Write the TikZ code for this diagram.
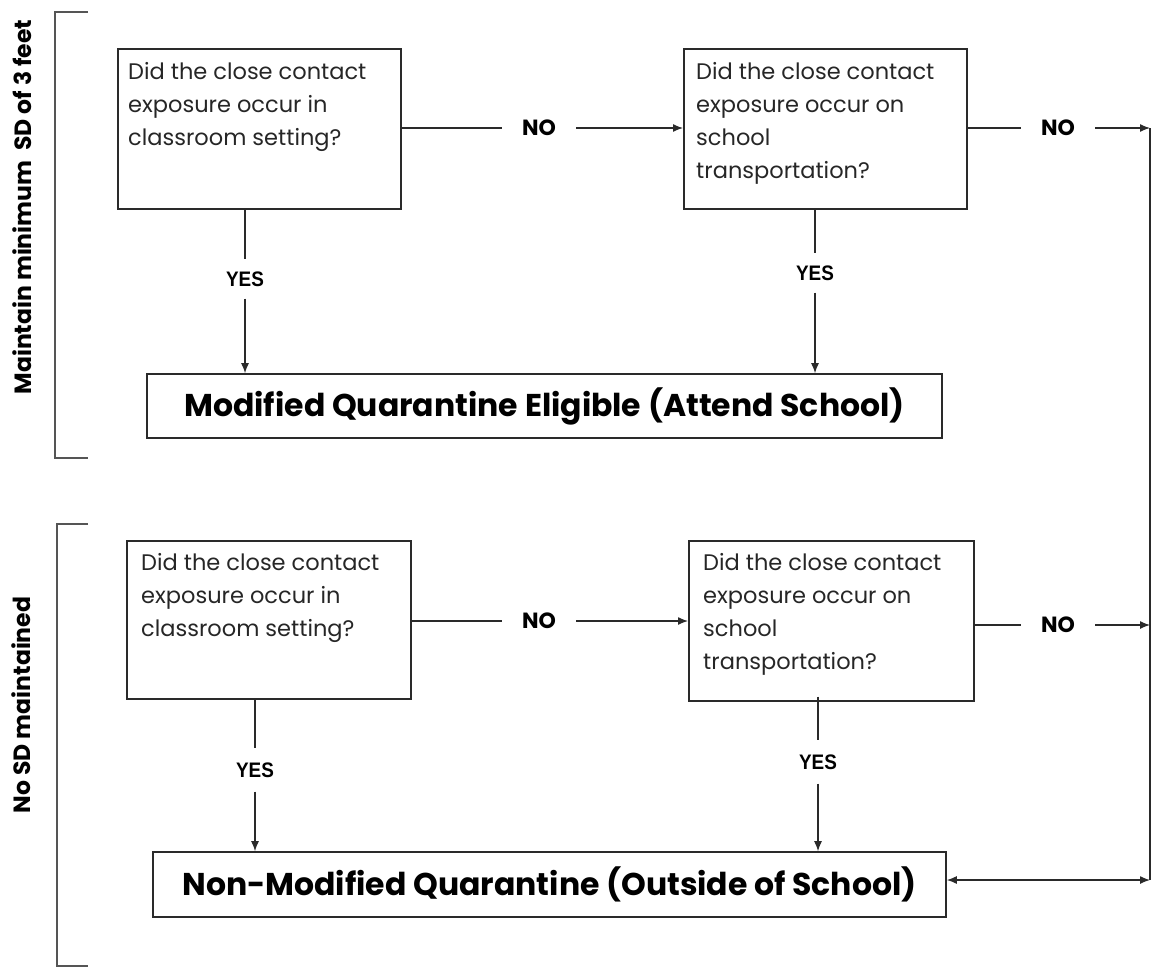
\documentclass[tikz,border=0pt]{standalone}
\usepackage{fontspec}
\setmainfont{Poppins}
\newfontfamily\narrowfont{Liberation Sans}
\usetikzlibrary{arrows.meta}
\definecolor{linec}{HTML}{2A2A2A}
\begin{document}
\begin{tikzpicture}[x=1pt,y=-1pt,
  qbox/.style={draw=linec, line width=1.6pt, anchor=north west, inner sep=0pt},
  qtext/.style={anchor=north west, inner sep=0pt, align=left, text=black!85,
                font=\fontsize{22.5}{33}\selectfont},
  tbox/.style={draw=linec, line width=1.6pt, inner sep=0pt,
               font=\bfseries\fontsize{31.5}{34}\selectfont},
  nolab/.style={inner xsep=20pt, inner ysep=2pt, font=\bfseries\fontsize{22}{24}\selectfont},
  yeslab/.style={inner xsep=2pt, inner ysep=12pt, font=\narrowfont\bfseries\fontsize{21}{22}\selectfont},
  sidelab/.style={rotate=90, inner sep=0pt, font=\bfseries\fontsize{23.5}{26}\selectfont},
  conn/.style={draw=linec, line width=1.3pt},
  arr/.style={conn, -{Latex[length=10pt,width=8pt]}},
  dbl/.style={conn, {Latex[length=10pt,width=8pt]}-{Latex[length=10pt,width=8pt]}},
  bracket/.style={draw=linec!80, line width=1.5pt}
]
\useasboundingbox (0,0) rectangle (1155,971);

% side labels and brackets
\node[sidelab] (lab1) at (22,207) {Maintain minimum\ \ SD of 3 feet};
\node[sidelab] (lab2) at (21,705) {No SD maintained};
\draw[bracket] (88,12) -- (55,12) -- (55,458) -- (88,458);
\draw[bracket] (88,524) -- (57,524) -- (57,966) -- (88,966);

% top section
\node[qbox, minimum width=283pt, minimum height=160pt] (A1) at (117,48) {};
\node[qtext] (A1t) at (128,62) {Did the close contact\\exposure occur in\\classroom setting?};
\node[qbox, minimum width=283pt, minimum height=160pt] (B1) at (683,48) {};
\node[qtext] (B1t) at (696,62) {Did the close contact\\exposure occur on\\school\\transportation?};
\node[tbox, minimum width=795pt, minimum height=64pt] (M1) at (544.5,406) {Modified Quarantine Eligible (Attend School)};

\node[nolab] (no1) at (539,128) {NO};
\node[nolab] (no2) at (1058,128) {NO};
\node[yeslab] (yes1) at (245,279) {\scalebox{0.9}[1]{YES}};
\node[yeslab] (yes2) at (815,273) {\scalebox{0.9}[1]{YES}};

% bottom section
\node[qbox, minimum width=284pt, minimum height=158pt] (A2) at (126,540) {};
\node[qtext] (A2t) at (141,553) {Did the close contact\\exposure occur in\\classroom setting?};
\node[qbox, minimum width=285pt, minimum height=160pt] (B2) at (688,540) {};
\node[qtext] (B2t) at (703,553) {Did the close contact\\exposure occur on\\school\\transportation?};
\node[tbox, minimum width=793pt, minimum height=65pt] (N) at (549.5,884.5) {Non-Modified Quarantine (Outside of School)};

\node[nolab] (no3) at (539,621) {NO};
\node[nolab] (no4) at (1058,625) {NO};
\node[yeslab, inner ysep=14pt] (yes3) at (255,770) {\scalebox{0.9}[1]{YES}};
\node[yeslab, inner ysep=14pt] (yes4) at (818,762) {\scalebox{0.9}[1]{YES}};

% right trunk
\coordinate (rc1) at (1150,128);
\coordinate (rc2) at (1150,625);
\coordinate (rc3) at (1150,880);

% connectors top
\draw[conn] (A1.east |- no1) -- (no1.west);
\draw[arr] (no1.east) -- (B1.west |- no1);
\draw[conn] (B1.east |- no2) -- (no2.west);
\draw[arr] (no2.east) -- (rc1);
\draw[conn] (yes1 |- A1.south) -- (yes1.north);
\draw[arr] (yes1.south) -- (yes1 |- M1.north);
\draw[conn] (yes2 |- B1.south) -- (yes2.north);
\draw[arr] (yes2.south) -- (yes2 |- M1.north);

% connectors bottom
\draw[conn] (A2.east |- no3) -- (no3.west);
\draw[arr] (no3.east) -- (B2.west |- no3);
\draw[conn] (B2.east |- no4) -- (no4.west);
\draw[arr] (no4.east) -- (rc2);
\draw[conn] (yes3 |- A2.south) -- (yes3.north);
\draw[arr] (yes3.south) -- (yes3 |- N.north);
\draw[conn] ([yshift=5pt]yes4 |- B2.south) -- (yes4.north);
\draw[arr] (yes4.south) -- (yes4 |- N.north);

\draw[conn] (rc1) -- (rc3);
\draw[dbl] (N.east |- rc3) -- (rc3);
\end{tikzpicture}
\end{document}
